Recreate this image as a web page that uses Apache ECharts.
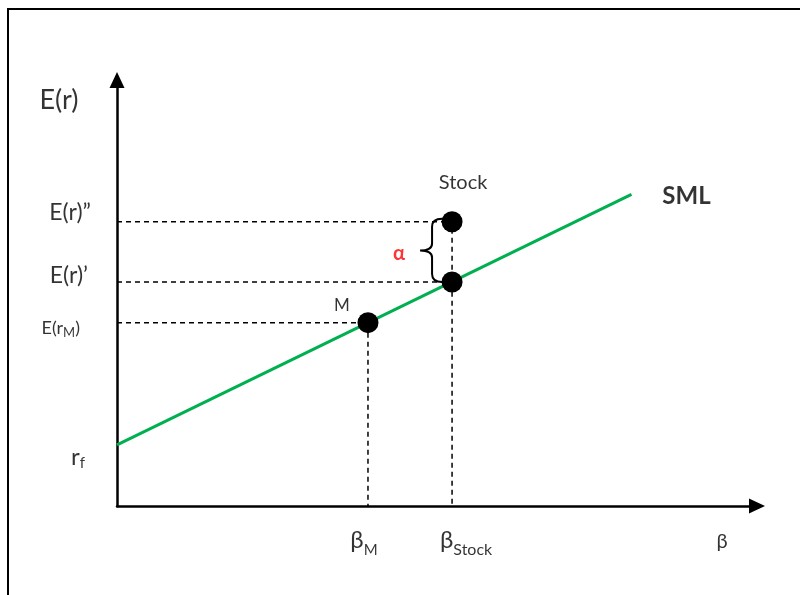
<!DOCTYPE html>
<html><head><meta charset="utf-8">
<script src="https://cdn.jsdelivr.net/npm/echarts@6/dist/echarts.min.js"></script>
<style>html,body{margin:0;padding:0;background:#fff}#c{width:800px;height:595px}</style>
</head><body><div id="c"></div><script>
// ---- data ----
const smlBeta = [0, 2.05];
const smlReturn = [2, 10.2];
const pointNames = ['M', 'Stock on SML', 'Stock'];
const pointBeta = [1, 1.335, 1.335];
const pointReturn = [6, 7.33, 9.3];
const betaMax = 2.55;
const returnMax = 13.94;
// [..] marks a subscript
const labelTexts  = ['E(r)', 'E(r)”', 'E(r)’', 'E(r[M])', 'r[f]', 'β[M]', 'β[Stock]', 'β', 'Stock', 'M', 'α', 'SML'];
const labelBeta   = [0, 0, 0, 0, 0, 1, 1.335, 2.55, 1.335, 1, 1.335, 2.05];
const labelReturn = [13.94, 9.3, 7.33, 6, 2, 0, 0, 0, 9.3, 6, 9.3, 10.2];

// ---- styles ----
const FONT = 'Lato';
const labelStyle = [
  {dx:-58, dy:20, size:27, align:'center'},
  {dx:-26, dy:-9, size:23, align:'right'},
  {dx:-29, dy:-6, size:23, align:'right'},
  {dx:-37, dy:7, size:18, sub:13, pad:2, align:'right'},
  {dx:-32, dy:13, size:24, sub:15, pad:2, align:'right'},
  {dx:-4, dy:37, size:24, sub:15, pad:5, align:'center'},
  {dx:14, dy:37, size:24, sub:16, pad:5, align:'center'},
  {dx:-35, dy:36, size:20, align:'center'},
  {dx:11, dy:-39, size:20, align:'center'},
  {dx:-26, dy:-17, size:17, align:'center'},
  {dx:-53, dy:32, size:20, align:'center', color:'#ff0000', weight:'bold'},
  {dx:55, dy:2, size:24, align:'center', weight:'bold'}
];

function richText(t) {
  return '{m|' + t.replace(/\[([^\]]+)\]/g, '}{s|$1}{m|') + '}';
}

const labelData = labelTexts.map((t, i) => {
  const s = labelStyle[i];
  const color = s.color || '#000';
  const weight = s.weight || 'normal';
  return {
    value: [labelBeta[i], labelReturn[i]],
    label: {
      show: true, position: 'inside', offset: [s.dx, s.dy], align: s.align, verticalAlign: 'middle',
      formatter: richText(t),
      rich: {
        m: {fontSize: s.size, fontFamily: FONT, color: color, fontWeight: weight, verticalAlign: 'bottom', padding: [0, 0, s.pad || 0, 0]},
        s: {fontSize: s.sub || s.size, fontFamily: FONT, color: color, fontWeight: weight, verticalAlign: 'bottom'}
      }
    }
  };
});

const guideSeries = pointBeta.map((b, i) => {
  const r = pointReturn[i];
  const data = i === 1 ? [[0, r], [b, r]] : [[0, r], [b, r], [b, 0]];
  return {
    type: 'line', name: pointNames[i] + ' guide', data: data, symbol: 'none', silent: true, z: 2,
    lineStyle: {color: '#000', width: 1.5, type: [5, 4]}
  };
});

const chart = echarts.init(document.getElementById('c'), null, {renderer: 'canvas'});
chart.setOption({
  animation: false,
  backgroundColor: '#fff',
  grid: {left: 117, right: 43, top: 80, bottom: 89, containLabel: false, outerBoundsMode: 'none'},
  xAxis: {
    type: 'value', min: 0, max: betaMax,
    axisLine: {show: true, symbol: ['none', 'triangle'], symbolSize: [15, 16], lineStyle: {color: '#000', width: 2.5}},
    axisTick: {show: false}, axisLabel: {show: false}, splitLine: {show: false}
  },
  yAxis: {
    type: 'value', min: 0, max: returnMax,
    axisLine: {show: true, symbol: ['none', 'triangle'], symbolSize: [15, 16], lineStyle: {color: '#000', width: 2.5}},
    axisTick: {show: false}, axisLabel: {show: false}, splitLine: {show: false}
  },
  graphic: [{
    type: 'polyline', shape: {points: [[8, 600], [8, 9], [805, 9]]},
    style: {stroke: '#000', lineWidth: 2, fill: null}
  }],
  series: [
    {
      type: 'line', name: 'SML', data: smlBeta.map((b, i) => [b, smlReturn[i]]), symbol: 'none', z: 3,
      lineStyle: {color: '#00b050', width: 3}
    },
    ...guideSeries,
    {
      type: 'custom', name: 'alpha brace', z: 4,
      data: [[pointBeta[2], pointReturn[1], pointReturn[2]]],
      renderItem: function (params, api) {
        const top = api.coord([api.value(0), api.value(2)]);
        const bot = api.coord([api.value(0), api.value(1)]);
        const xr = top[0] - 10, xb = xr - 10, xt = xr - 22;
        const t = top[1] - 3, b = bot[1];
        const mid = (t + b) / 2;
        const d = `M${xr},${t} Q${xb},${t} ${xb},${t + 8} L${xb},${mid - 7} Q${xb},${mid} ${xt},${mid} ` +
                  `Q${xb},${mid} ${xb},${mid + 7} L${xb},${b - 8} Q${xb},${b} ${xr},${b}`;
        return {type: 'path', shape: {pathData: d}, style: {fill: null, stroke: '#000', lineWidth: 2}};
      }
    },
    {
      type: 'scatter', name: 'points', z: 5, symbolSize: 21,
      itemStyle: {color: '#000', opacity: 1},
      data: pointBeta.map((b, i) => [b, pointReturn[i]])
    },
    {
      type: 'scatter', name: 'labels', z: 6, symbolSize: 0, silent: true,
      itemStyle: {color: 'transparent'},
      data: labelData
    }
  ]
});
</script></body></html>
